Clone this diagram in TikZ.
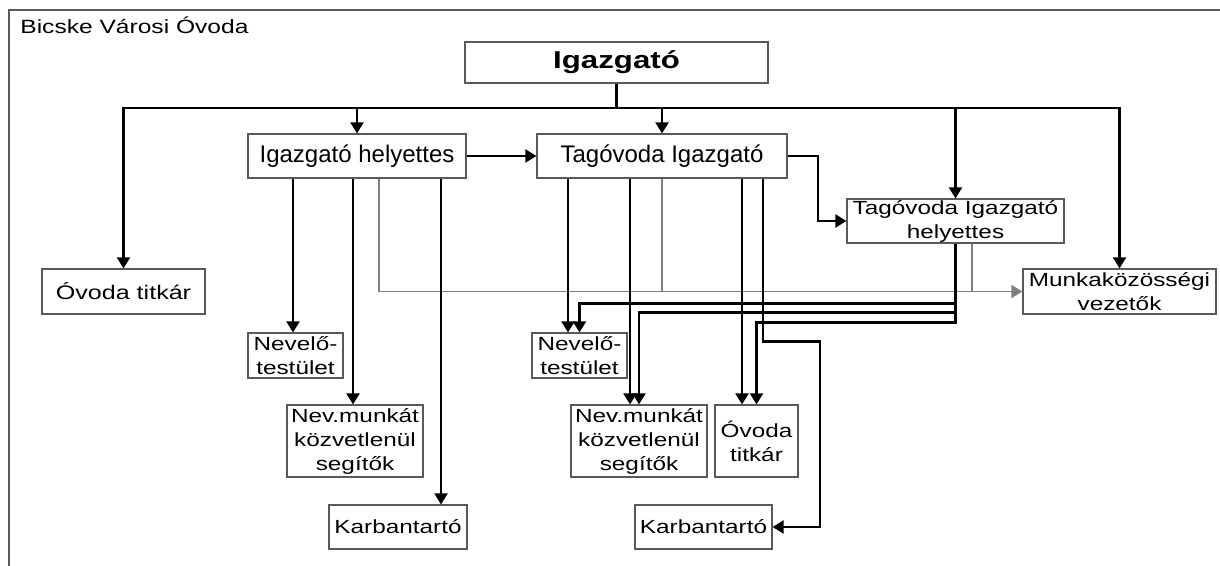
\documentclass[tikz,border=0pt]{standalone}
\usepackage{fontspec}
\setmainfont{Liberation Sans}
\newfontfamily\widefont[FakeStretch=1.28]{Liberation Sans}
\usepackage{tikz}
\usetikzlibrary{arrows.meta}

\begin{document}
\begin{tikzpicture}[x=0.5pt, y=-0.5pt, >={Triangle[length=5.5pt,width=6.5pt]},
    box/.style={draw=black!65, line width=0.6pt, inner sep=0pt, align=center},
    bigbox/.style={box, font=\fontsize{12}{14}\selectfont},
    smallbox/.style={box, font=\widefont\fontsize{9.5}{12}\selectfont},
    link/.style={line width=1.1pt},
    glink/.style={line width=0.9pt, draw=black!50}]

    % Frame and title
    \useasboundingbox (0,0) rectangle (1220,566);
    \draw [black!65, line width=0.6pt] (9,566) -- (9,10) -- (1220,10);
    \node [anchor=base west, inner sep=0pt, font=\widefont\fontsize{9.6}{11}\selectfont] (title) at (20,34) {Bicske Városi Óvoda};

    % Nodes {igaz, ih, ti, tih, mv, ...}
    \node [box, font=\widefont\bfseries\fontsize{12.2}{14}\selectfont, minimum width=151.5pt, minimum height=20.5pt] (igaz) at (616.5,62.5) {Igazgató};
    \node [bigbox, minimum width=109pt, minimum height=22pt]     (ih)  at (357,156)      {Igazgató helyettes};
    \node [bigbox, minimum width=125pt, minimum height=22pt]     (ti)  at (662,156)      {Tagóvoda Igazgató};
    \node [smallbox, minimum width=108.5pt, minimum height=22pt] (tih) at (955.5,221)    {Tagóvoda Igazgató\\helyettes};
    \node [smallbox, minimum width=96.5pt, minimum height=22.5pt] (mv) at (1119.5,291.5) {Munkaközösségi\\vezetők};
    \node [smallbox, font=\widefont\fontsize{9.8}{12}\selectfont, minimum width=81.5pt, minimum height=22.5pt] (ot1) at (123.5,291.5) {Óvoda titkár};

    \node [smallbox, minimum width=47.5pt, minimum height=22.5pt] (nt1) at (295.5,355.5) {Nevelő-\\testület};
    \node [smallbox, minimum width=68pt, minimum height=36pt]     (nm1) at (355,441)     {Nev.munkát\\közvetlenül\\segítők};
    \node [smallbox, minimum width=69pt, minimum height=22pt]     (kb1) at (398,527)     {Karbantartó};

    \node [smallbox, minimum width=47.5pt, minimum height=22.5pt] (nt2) at (579.5,355.5) {Nevelő-\\testület};
    \node [smallbox, minimum width=68pt, minimum height=36pt]     (nm2) at (639,441)     {Nev.munkát\\közvetlenül\\segítők};
    \node [smallbox, minimum width=41.5pt, minimum height=36pt]   (ot2) at (756.5,441)   {Óvoda\\titkár};
    \node [smallbox, minimum width=68.5pt, minimum height=22pt]   (kb2) at (703.5,527)   {Karbantartó};

    % Paths (grey first)
    \draw [glink, ->] ([xshift=11pt]ih.south) |- (mv.west);
    \draw [glink] (ti.south) -- (ti.south |- mv.west);
    \draw [glink] ([xshift=8.25pt]tih.south) -- ([xshift=8.25pt]tih.south |- mv.west);

    \coordinate (bus) at (616.5,108);
    \draw [link] (igaz.south) -- (bus);
    \foreach \n in {ot1,ih,ti,tih,mv}
        \draw [link, ->] (bus) -| (\n.north);

    \draw [link, ->] (ih) -- (ti);
    \draw [link, ->] (ti.east) -- ++(30,0) |- (tih.west);

    \foreach \dx/\n in {-32/nt1, -2/nm1, 42/kb1}
        \draw [link, ->] ([xshift=\dx pt]ih.south) -- ([xshift=\dx pt]ih.south |- \n.north);
    \foreach \dx/\n in {-47/nt2, -16/nm2, 40/ot2}
        \draw [link, ->] ([xshift=\dx pt]ti.south) -- ([xshift=\dx pt]ti.south |- \n.north);
    \draw [link, ->] ([xshift=50.5pt]ti.south) -- ++(0,163) -- ++(57,0) |- (kb2.east);

    \foreach \dy/\n in {60/nt2, 69/nm2, 79/ot2}
        \draw [link, ->] (tih.south) -- ++(0,\dy) -| (\n.north);

\end{tikzpicture}
\end{document}
